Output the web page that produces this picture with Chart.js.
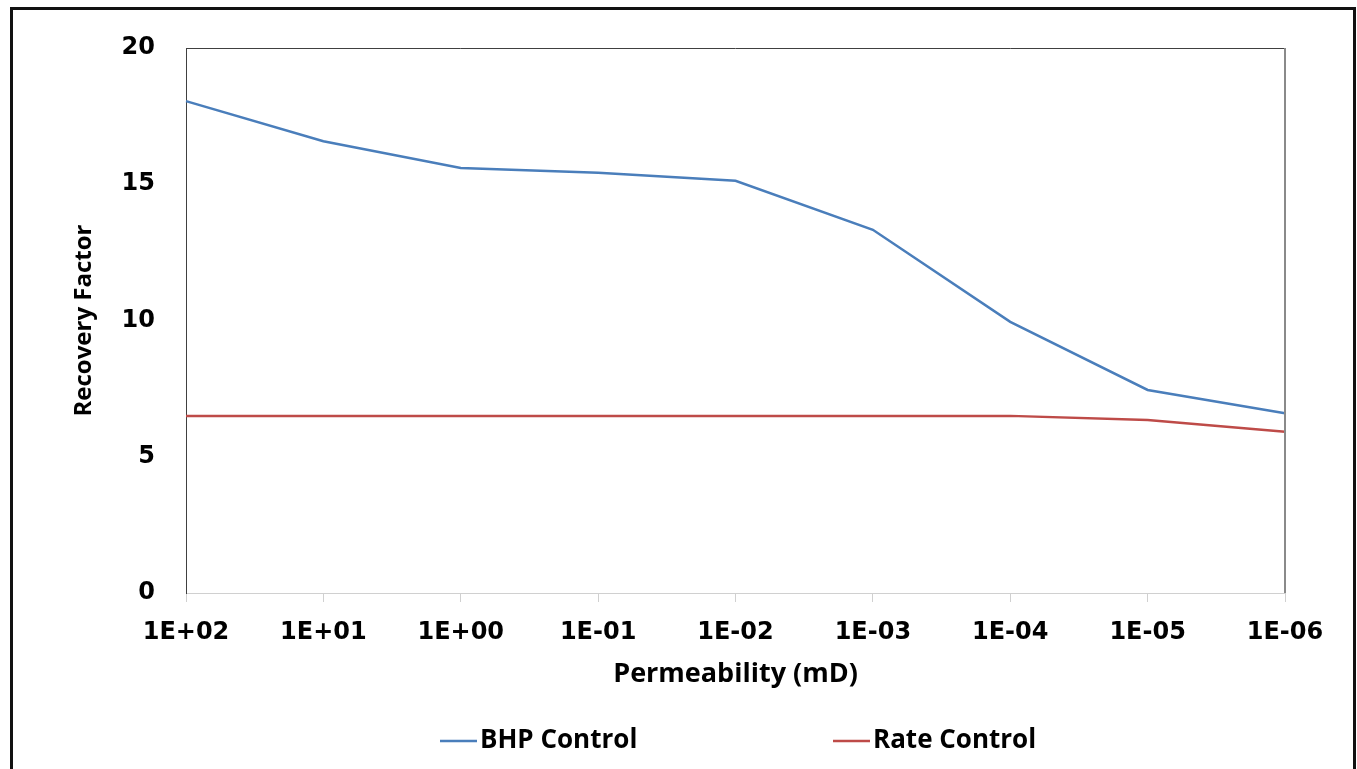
<!DOCTYPE html>
<html>
<head>
<meta charset="utf-8">
<script src="https://cdn.jsdelivr.net/npm/chart.js@4.4.1/dist/chart.umd.min.js"></script>
<style>
  html, body { margin: 0; padding: 0; background: #fff; }
  #wrap { position: relative; width: 1357px; height: 769px; }
</style>
</head>
<body>
<div id="wrap"><canvas id="myChart" width="1357" height="769"></canvas></div>
<script>
// permeability steps (mD), largest to smallest
const permLabels = ['1E+02', '1E+01', '1E+00', '1E-01', '1E-02', '1E-03', '1E-04', '1E-05', '1E-06'];
const bhpControl = [18.05, 16.58, 15.6, 15.42, 15.13, 13.33, 9.95, 7.45, 6.6];
const rateControl = [6.5, 6.5, 6.5, 6.5, 6.5, 6.5, 6.5, 6.35, 5.92];
const yTicks = [0, 5, 10, 15, 20];

const tickFont = { family: 'DejaVu Sans', weight: 'bold', size: 24 };

// outer frame + top/right edges of the plot box + legend
const framePlugin = {
  id: 'frame',
  afterDraw(chart) {
    const ctx = chart.ctx;
    const a = chart.chartArea;
    ctx.save();
    ctx.strokeStyle = '#111';
    ctx.lineWidth = 3;
    ctx.strokeRect(11.5, 8.5, 1343, 800);

    ctx.lineWidth = 1;
    ctx.strokeStyle = '#404040';
    ctx.beginPath();
    ctx.moveTo(a.left, a.top + 0.5);
    ctx.lineTo(a.right, a.top + 0.5);
    ctx.stroke();
    ctx.strokeStyle = '#8a8a8a';
    ctx.lineWidth = 2;
    ctx.beginPath();
    ctx.moveTo(a.right, a.top);
    ctx.lineTo(a.right, a.bottom);
    ctx.stroke();

    // legend
    const legendX = [440, 833];
    const legendY = 741;
    ctx.font = 'bold 26px "Open Sans"';
    ctx.textBaseline = 'middle';
    ctx.fillStyle = '#000';
    chart.data.datasets.forEach((ds, i) => {
      ctx.strokeStyle = ds.borderColor;
      ctx.lineWidth = 2.5;
      ctx.beginPath();
      ctx.moveTo(legendX[i], legendY);
      ctx.lineTo(legendX[i] + 37, legendY);
      ctx.stroke();
      ctx.fillText(ds.label, legendX[i] + 40, legendY);
    });
    ctx.restore();
  }
};

const ctx = document.getElementById('myChart').getContext('2d');
new Chart(ctx, {
  type: 'line',
  data: {
    labels: permLabels,
    datasets: [{
      label: 'BHP Control',
      data: bhpControl,
      borderColor: '#4a7ebb',
      borderWidth: 2.5,
      pointRadius: 0,
      tension: 0,
      fill: false,
    }, {
      label: 'Rate Control',
      data: rateControl,
      borderColor: '#be4b48',
      borderWidth: 2.5,
      pointRadius: 0,
      tension: 0,
      fill: false,
    }],
  },
  options: {
    responsive: false,
    animation: false,
    layout: { padding: { top: 48, right: 72, bottom: 76, left: 0 } },
    plugins: {
      legend: { display: false },
      tooltip: { enabled: false },
    },
    scales: {
      x: {
        offset: false,
        grid: { display: true, drawOnChartArea: false, drawTicks: true, tickLength: 9, color: '#d0d0d0' },
        border: { display: true, color: '#d0d0d0', width: 1 },
        ticks: { font: tickFont, color: '#000', padding: 16, maxRotation: 0, autoSkip: false },
        title: { display: true, text: 'Permeability (mD)', font: { family: 'Open Sans', weight: 'bold', size: 27 }, color: '#000', padding: { bottom: 2 } },
        afterFit(scale) { scale.height = 100; },
      },
      y: {
        min: 0,
        max: 20,
        afterBuildTicks(scale) { scale.ticks = yTicks.map(v => ({ value: v })); },
        grid: { display: false, drawTicks: false },
        border: { display: true, color: '#404040', width: 1 },
        ticks: { font: tickFont, color: '#000', padding: 31 },
        title: { display: true, text: 'Recovery Factor', font: { family: 'Open Sans', weight: 'bold', size: 24 }, color: '#000', padding: { top: 70 } },
        afterFit(scale) { scale.width = 186; },
      },
    },
  },
  plugins: [framePlugin],
});
</script>
</body>
</html>
